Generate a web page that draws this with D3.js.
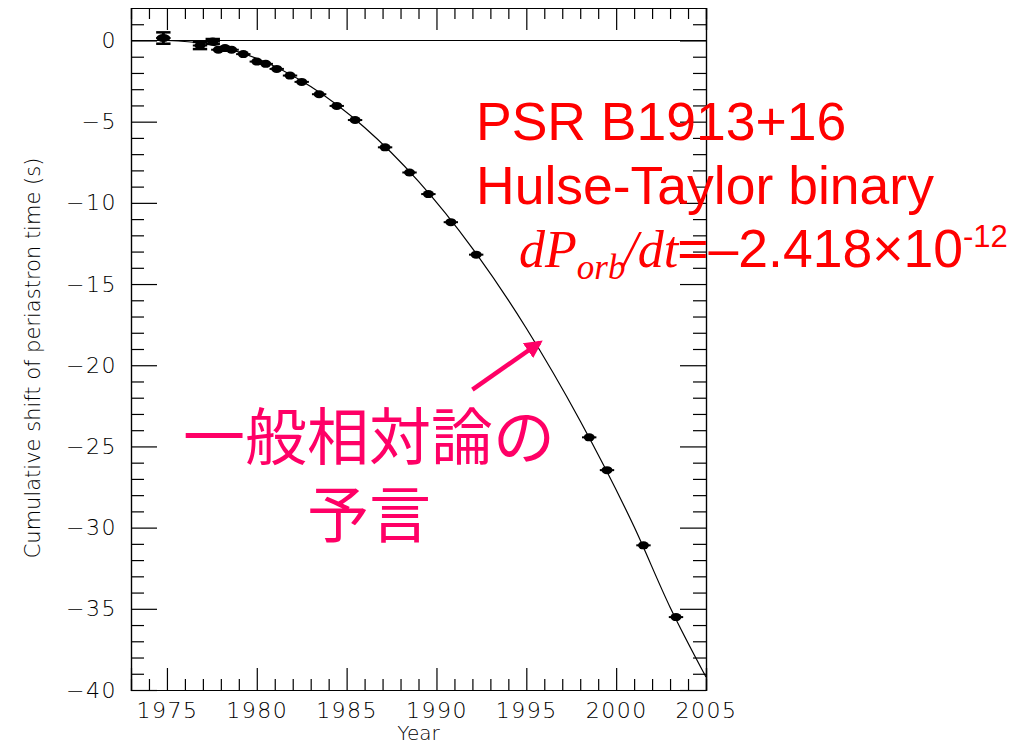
<!DOCTYPE html>
<html>
<head>
<meta charset="utf-8">
<script src="https://cdn.jsdelivr.net/npm/d3@7"></script>
<style>
  body { margin: 0; background: #fff; }
  svg { display: block; }
</style>
</head>
<body>
<div id="chart"></div>
<script>
// measured timing points (year, cumulative shift in s, vertical error in s)
var years = [1974.80, 1976.84, 1977.55, 1977.86, 1978.23, 1978.60, 1979.25, 1980.00,
  1980.50, 1981.11, 1981.85, 1982.50, 1983.47, 1984.45, 1985.47, 1987.14, 1988.50,
  1989.55, 1990.80, 1992.21, 1998.50, 1999.49, 2001.52, 2003.33];
var shifts = [0.15, -0.31, -0.06, -0.57, -0.47, -0.57, -0.84, -1.30,
  -1.44, -1.75, -2.16, -2.55, -3.31, -4.03, -4.90, -6.58, -8.13,
  -9.46, -11.19, -13.19, -24.44, -26.46, -31.09, -35.51];
var shiftErr = [0.35, 0.22, 0.15, 0.1, 0.1, 0.08, 0.08, 0.06,
  0.05, 0.05, 0.05, 0.05, 0.05, 0.05, 0.05, 0.05, 0.05,
  0.05, 0.05, 0.05, 0.05, 0.05, 0.05, 0.05];
var yearErr = 0.4;

// GR prediction curve
var curveYears = [1975, 1977, 1980, 1983, 1986, 1989, 1992, 1995, 1998, 2001, 2003, 2005];
var curveShifts = [0, -0.18, -1.11, -2.84, -5.36, -8.68, -12.80, -17.72, -23.43, -29.95, -34.9, -39.2];

// tick labels
var yearTicks = [1975, 1980, 1985, 1990, 1995, 2000, 2005];
var shiftTicks = [0, -5, -10, -15, -20, -25, -30, -35, -40];

// arrow annotation, in data units: [start, tip]
var arrowPts = [[1992.0, -21.5], [1995.75, -18.6]];

var W = 1033, H = 743,
  plot = { left: 131, right: 706, top: 8, bottom: 690 },
  tickFont = '"DejaVu Sans", sans-serif',
  red = '#ff0000',
  pink = '#ff0066';

var x = d3.scaleLinear().domain([1973, 2005]).range([plot.left, plot.right]);
var y = d3.scaleLinear().domain([-40, 2]).range([plot.bottom, plot.top]);

var svg = d3.select('#chart').append('svg')
  .attr('width', W)
  .attr('height', H);

var defs = svg.append('defs');
defs.append('marker')
  .attr('id', 'head')
  .attr('viewBox', '0 0 10 10')
  .attr('refX', 8)
  .attr('refY', 5)
  .attr('markerWidth', 4)
  .attr('markerHeight', 4)
  .attr('orient', 'auto')
  .append('path')
  .attr('d', 'M0,0 L10,5 L0,10 Z')
  .attr('fill', pink);

// frame + ticks on all four sides
function styleAxis(g) {
  g.select('.domain').attr('stroke', '#000').attr('stroke-width', 1.2);
  g.selectAll('.tick line').attr('stroke', '#000').attr('stroke-width', 1.2);
  g.selectAll('text').attr('fill', '#000')
    .style('font-family', tickFont)
    .style('font-size', '22px')
    .style('font-weight', 200)
    .style('letter-spacing', '1.5px');
}

var minorYears = d3.range(1974, 2005).filter(function (d) { return d % 5 !== 0; });
var minorShifts = d3.range(-39, 2).filter(function (d) { return d % 5 !== 0; });

svg.append('g')
  .attr('transform', 'translate(0,' + plot.bottom + ')')
  .call(d3.axisBottom(x).tickValues(yearTicks).tickSize(-22).tickPadding(12).tickFormat(d3.format('d')))
  .call(styleAxis);
svg.append('g')
  .attr('transform', 'translate(0,' + plot.bottom + ')')
  .call(d3.axisBottom(x).tickValues(minorYears).tickSize(-11).tickFormat(''))
  .call(styleAxis);
svg.append('g')
  .attr('transform', 'translate(0,' + plot.top + ')')
  .call(d3.axisTop(x).tickValues(yearTicks).tickSize(-22).tickFormat(''))
  .call(styleAxis);
svg.append('g')
  .attr('transform', 'translate(0,' + plot.top + ')')
  .call(d3.axisTop(x).tickValues(minorYears).tickSize(-11).tickFormat(''))
  .call(styleAxis);

svg.append('g')
  .attr('transform', 'translate(' + plot.left + ',0)')
  .call(d3.axisLeft(y).tickValues(shiftTicks).tickSize(-26).tickPadding(14)
    .tickFormat(function (d) { return d < 0 ? '\u2212' + (-d) : d; }))
  .call(styleAxis);
svg.append('g')
  .attr('transform', 'translate(' + plot.left + ',0)')
  .call(d3.axisLeft(y).tickValues(minorShifts).tickSize(-13).tickFormat(''))
  .call(styleAxis);
svg.append('g')
  .attr('transform', 'translate(' + plot.right + ',0)')
  .call(d3.axisRight(y).tickValues(shiftTicks).tickSize(-26).tickFormat(''))
  .call(styleAxis);
svg.append('g')
  .attr('transform', 'translate(' + plot.right + ',0)')
  .call(d3.axisRight(y).tickValues(minorShifts).tickSize(-13).tickFormat(''))
  .call(styleAxis);

// zero line across the plot
svg.append('line')
  .attr('x1', plot.left).attr('x2', plot.right)
  .attr('y1', y(0)).attr('y2', y(0))
  .attr('stroke', '#000').attr('stroke-width', 1.2);

// axis titles
svg.append('text')
  .attr('transform', 'translate(40,' + ((plot.top + plot.bottom) / 2 + 9) + ') rotate(-90)')
  .attr('text-anchor', 'middle')
  .style('font-family', tickFont)
  .style('font-size', '21px')
  .style('font-weight', 200)
  .attr('fill', '#000')
  .text('Cumulative shift of periastron time (s)');

svg.append('text')
  .attr('x', (plot.left + plot.right) / 2)
  .attr('y', 740)
  .attr('text-anchor', 'middle')
  .style('font-family', tickFont)
  .style('font-size', '20px')
  .style('font-weight', 200)
  .attr('fill', '#000')
  .text('Year');

// prediction curve
var curve = curveYears.map(function (d, i) { return [d, curveShifts[i]]; });
var line = d3.line()
  .x(function (d) { return x(d[0]); })
  .y(function (d) { return y(d[1]); })
  .curve(d3.curveMonotoneX);

svg.append('path')
  .datum(curve)
  .attr('fill', 'none')
  .attr('stroke', '#000')
  .attr('stroke-width', 1.2)
  .attr('d', line);

// data points with error bars
var pts = years.map(function (d, i) { return { t: d, s: shifts[i], e: shiftErr[i] }; });
var pt = svg.append('g').selectAll('g')
  .data(pts)
  .enter().append('g');

pt.append('line')
  .attr('x1', function (d) { return x(d.t - yearErr); })
  .attr('x2', function (d) { return x(d.t + yearErr); })
  .attr('y1', function (d) { return y(d.s); })
  .attr('y2', function (d) { return y(d.s); })
  .attr('stroke', '#000').attr('stroke-width', 2);

// larger early errors: vertical bar with wide caps
pt.filter(function (d) { return d.e > 0.1; }).each(function (d) {
  var g = d3.select(this), cap = x(d.t + yearErr) - x(d.t);
  g.append('line')
    .attr('x1', x(d.t)).attr('x2', x(d.t))
    .attr('y1', y(d.s + d.e)).attr('y2', y(d.s - d.e))
    .attr('stroke', '#000').attr('stroke-width', 3);
  [d.s + d.e, d.s - d.e].forEach(function (v) {
    g.append('line')
      .attr('x1', x(d.t) - cap).attr('x2', x(d.t) + cap)
      .attr('y1', y(v)).attr('y2', y(v))
      .attr('stroke', '#000').attr('stroke-width', 2.5);
  });
});

pt.append('ellipse')
  .attr('cx', function (d) { return x(d.t); })
  .attr('cy', function (d) { return y(d.s); })
  .attr('rx', function (d) { return d.e > 0.3 ? 7 : 5.5; })
  .attr('ry', 4)
  .attr('fill', '#000');

// annotations
svg.append('line')
  .attr('x1', x(arrowPts[0][0])).attr('y1', y(arrowPts[0][1]))
  .attr('x2', x(arrowPts[1][0])).attr('y2', y(arrowPts[1][1]))
  .attr('stroke', pink)
  .attr('stroke-width', 4.5)
  .attr('marker-end', 'url(#head)');

var note = svg.append('g')
  .attr('fill', red)
  .style('font-family', '"Liberation Sans", Arial, sans-serif')
  .style('font-size', '53.5px');

note.append('text').attr('x', 476).attr('y', 140).text('PSR B1913+16');
note.append('text').attr('x', 476).attr('y', 204).text('Hulse-Taylor binary');

var rate = note.append('text').attr('x', 519).attr('y', 267);
rate.append('tspan')
  .style('font-family', '"Liberation Serif", "Times New Roman", serif')
  .style('font-style', 'italic')
  .style('font-size', '52px')
  .text('dP');
rate.append('tspan')
  .attr('dy', 12)
  .style('font-family', '"Liberation Serif", "Times New Roman", serif')
  .style('font-style', 'italic')
  .style('font-size', '35px')
  .text('orb');
rate.append('tspan')
  .attr('dy', -12)
  .attr('dx', -2)
  .style('font-family', '"Liberation Serif", "Times New Roman", serif')
  .style('font-style', 'italic')
  .style('font-size', '52px')
  .text('/dt');
rate.append('tspan').attr('dx', -1).text('=\u20132.418\u00d710');
rate.append('tspan')
  .attr('dy', -20)
  .style('font-size', '31px')
  .text('-12');

var jp = svg.append('g')
  .attr('fill', pink)
  .attr('text-anchor', 'middle')
  .style('font-family', '"Noto Sans CJK JP", sans-serif')
  .style('font-size', '62px');
jp.append('text').attr('x', 369).attr('y', 460).text('一般相対論の');
jp.append('text').attr('x', 369).attr('y', 538).text('予言');
</script>
</body>
</html>
